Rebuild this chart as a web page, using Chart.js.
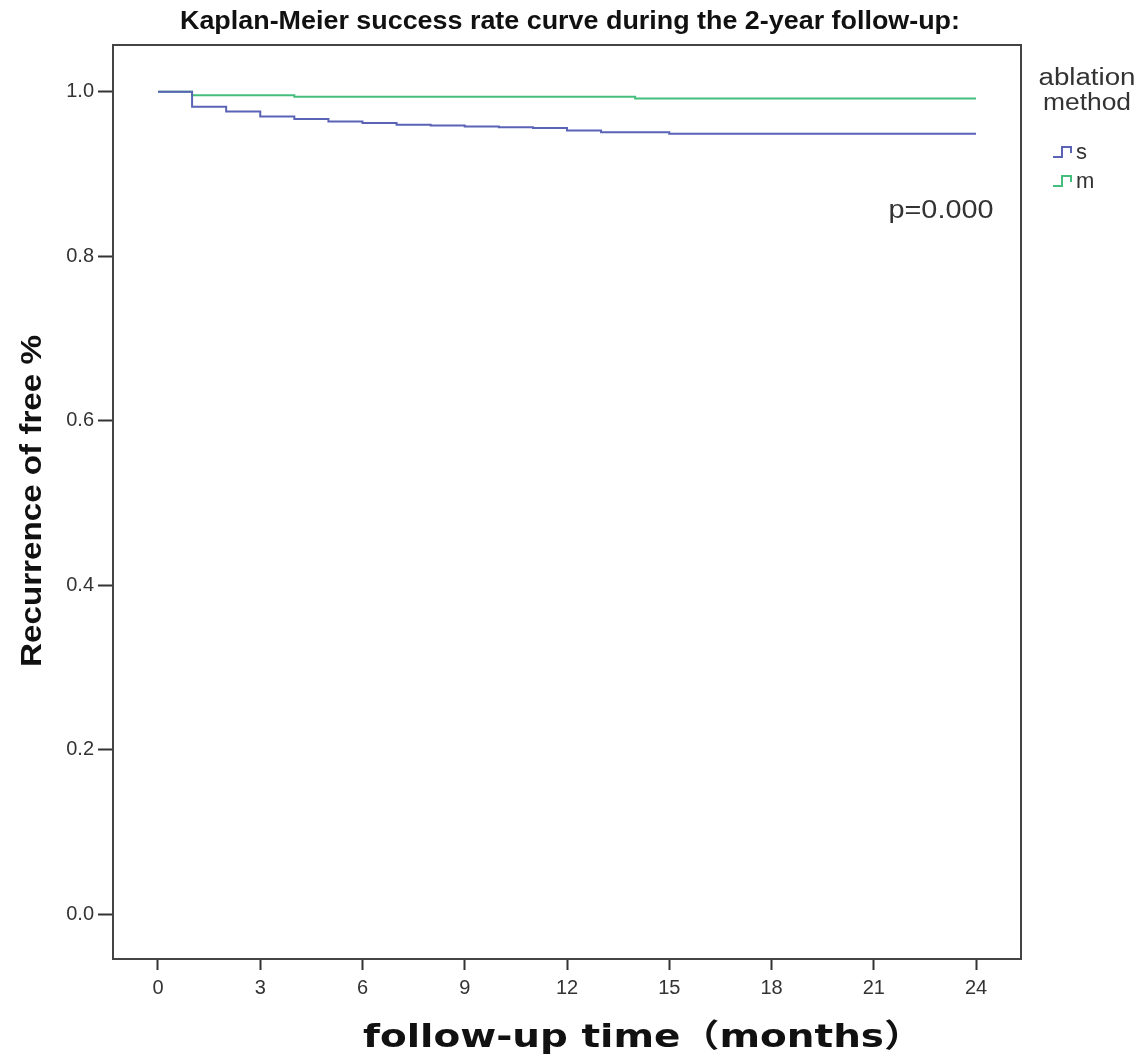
<!DOCTYPE html>
<html>
<head>
<meta charset="utf-8">
<script src="https://cdn.jsdelivr.net/npm/chart.js@4/dist/chart.umd.min.js"></script>
<style>
  html, body { margin: 0; padding: 0; background: #fff; }
  #wrap { width: 1139px; height: 1060px; position: relative; }
</style>
</head>
<body>
<div id="wrap"><canvas id="km-chart"></canvas></div>
<script>
// Kaplan-Meier 曲线：随访月份与无复发比例
const sMonths = [0, 1, 2, 3, 4, 5, 6, 7, 8, 9, 10, 11, 12, 13, 15, 24];
const sSurvival = [1.0, 0.982, 0.976, 0.970, 0.967, 0.964, 0.962, 0.960, 0.959, 0.958, 0.957, 0.956, 0.953, 0.951, 0.949, 0.949];
const mMonths = [0, 1, 4, 14, 24];
const mSurvival = [1.0, 0.996, 0.994, 0.992, 0.992];

const xTickValues = [0, 3, 6, 9, 12, 15, 18, 21, 24];
const yTickValues = [0, 0.2, 0.4, 0.6, 0.8, 1.0];

const chartTitle = 'Kaplan-Meier success rate curve during the 2-year follow-up:';
const xAxisTitle = 'follow-up time（months）';
const yAxisTitle = 'Recurrence of free %';
const legendTitle = ['ablation', 'method'];
const seriesNames = ['s', 'm'];
const pValueText = 'p=0.000';

const BLUE = '#5a63b6';
const GREEN = '#45bd7c';
const INK = '#333333';

// 按目标宽度水平缩放文字（原图字体较窄/较宽）
function fitText(ctx, text, cx, cy, width) {
  const w = ctx.measureText(text).width;
  ctx.save();
  ctx.translate(cx, cy);
  ctx.scale(width / w, 1);
  ctx.fillText(text, 0, 0);
  ctx.restore();
}

// 画外框、标题、图例和p值
const decorPlugin = {
  id: 'kmDecor',
  afterDraw(chart) {
    const { ctx, chartArea: a } = chart;
    ctx.save();
    ctx.strokeStyle = '#444';
    ctx.lineWidth = 2;
    ctx.strokeRect(a.left, a.top, a.right - a.left, a.bottom - a.top);

    ctx.fillStyle = '#111';
    ctx.textAlign = 'center';
    ctx.textBaseline = 'middle';
    ctx.font = 'bold 26px "Liberation Sans", sans-serif';
    fitText(ctx, chartTitle, 570, 22, 780);

    ctx.font = 'bold 32px "DejaVu Sans", "Noto Sans CJK SC", sans-serif';
    fitText(ctx, xAxisTitle, 643, 1039, 560);

    ctx.save();
    ctx.translate(33, 501);
    ctx.rotate(-Math.PI / 2);
    ctx.font = 'bold 30px "Liberation Sans", sans-serif';
    fitText(ctx, yAxisTitle, 0, 0, 332);
    ctx.restore();

    ctx.fillStyle = INK;
    ctx.font = '23px "Liberation Sans", sans-serif';
    fitText(ctx, legendTitle[0], 1087, 79, 97);
    fitText(ctx, legendTitle[1], 1087, 104, 88);

    ctx.textAlign = 'left';
    ctx.font = '22px "Liberation Sans", sans-serif';
    [BLUE, GREEN].forEach((col, i) => {
      const y0 = 157 + i * 29;
      ctx.strokeStyle = col;
      ctx.lineWidth = 2;
      ctx.beginPath();
      ctx.moveTo(1053, y0);
      ctx.lineTo(1062, y0);
      ctx.lineTo(1062, y0 - 10);
      ctx.lineTo(1071, y0 - 10);
      ctx.lineTo(1071, y0 - 4);
      ctx.stroke();
      ctx.fillStyle = INK;
      ctx.fillText(seriesNames[i], 1076, y0 - 4);
    });

    ctx.textAlign = 'center';
    ctx.font = '25px "Liberation Sans", sans-serif';
    fitText(ctx, pValueText, 941, 211, 105);
    ctx.restore();
  }
};

const ctxEl = document.getElementById('km-chart');
new Chart(ctxEl, {
  type: 'line',
  data: {
    datasets: [
      {
        label: seriesNames[0],
        data: sMonths.map((t, i) => ({ x: t, y: sSurvival[i] })),
        borderColor: BLUE,
        borderWidth: 2,
        pointRadius: 0,
        stepped: 'before',
        fill: false
      },
      {
        label: seriesNames[1],
        data: mMonths.map((t, i) => ({ x: t, y: mSurvival[i] })),
        borderColor: GREEN,
        borderWidth: 2,
        pointRadius: 0,
        stepped: 'before',
        fill: false
      }
    ]
  },
  options: {
    responsive: true,
    maintainAspectRatio: false,
    animation: false,
    layout: { padding: { left: 0, top: 45, right: 118, bottom: 0 } },
    scales: {
      x: {
        type: 'linear',
        min: -1.32,
        max: 25.32,
        afterBuildTicks: (s) => { s.ticks = xTickValues.map(v => ({ value: v })); },
        afterFit: (s) => { s.height = 101; },
        grid: { display: true, drawOnChartArea: false, drawTicks: true, tickLength: 11, tickWidth: 2, color: INK },
        border: { display: false },
        ticks: { color: INK, padding: 6, font: { family: 'Liberation Sans', size: 20 }, maxRotation: 0, autoSkip: false }
      },
      y: {
        min: -0.0547,
        max: 1.057,
        afterBuildTicks: (s) => { s.ticks = yTickValues.map(v => ({ value: v })); },
        afterFit: (s) => { s.width = 113; },
        grid: { display: true, drawOnChartArea: false, drawTicks: true, tickLength: 15, tickWidth: 2, color: INK },
        border: { display: false },
        ticks: { color: INK, padding: 4, font: { family: 'Liberation Sans', size: 20 }, callback: v => Number(v).toFixed(1) }
      }
    },
    plugins: {
      legend: { display: false },
      title: { display: false },
      tooltip: { enabled: false }
    }
  },
  plugins: [decorPlugin]
});
</script>
</body>
</html>
